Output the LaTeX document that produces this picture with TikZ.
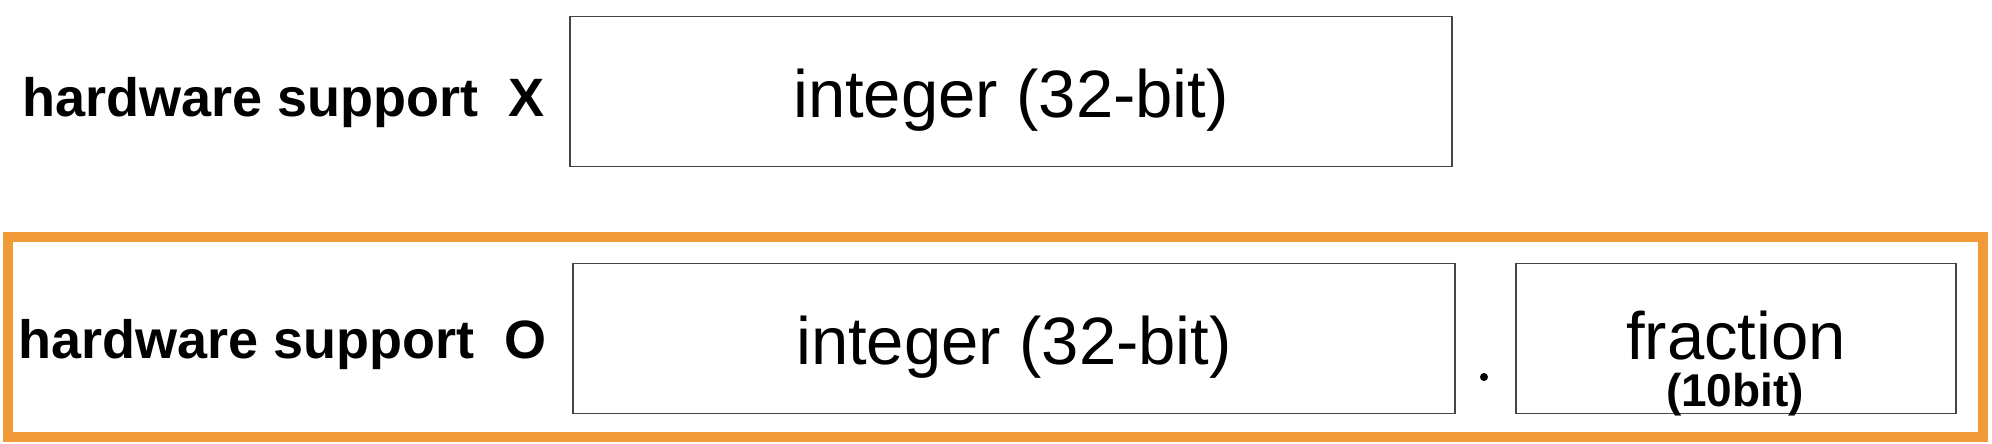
\documentclass[tikz,border=0pt]{standalone}
\usepackage{fontspec}
\setmainfont{Liberation Sans}
\usepackage{tikz}
\usetikzlibrary{
    positioning,
    calc
}
\tikzset{
  block/.style   = {draw=boGray, line width=0.75pt, minimum width=441pt,
                    minimum height=75pt, inner sep=0pt,
                    font=\fontsize{33.5}{40}\selectfont,
                    text height=26pt, text depth=0pt},
  fblock/.style  = {block, minimum width=220pt, text height=21pt},
  hwlbl/.style   = {anchor=base west, inner sep=0pt,
                    font=\fontsize{27}{32}\selectfont\bfseries},
  sublbl/.style  = {anchor=base, inner sep=0pt,
                    font=\fontsize{23}{28}\selectfont\bfseries},
  frame/.style   = {draw=boOrange, line width=5pt}
}
\definecolor{boOrange}{RGB}{240,154,56}
\definecolor{boGray}{RGB}{70,70,70}

\begin{document}
\begin{tikzpicture}[x=0.5pt,y=-0.5pt]
\useasboundingbox (0,0) rectangle (1992,444);
% no hardware support
\node[hwlbl] (hwx) at (22,117) {hardware support\ \ X};
\node[block] (int1) at (1011,91.5) {integer (32-bit)};
% hardware support
\draw[frame] (7.5,237) rectangle (1983,437);
\node[hwlbl] (hwo) at (18,358) {hardware support\ \ O};
\node[block] (int2) at (1014,338.5) {integer (32-bit)};
\node[fblock] (frac) at (1736,338.5) {fraction};
\node[sublbl] (fbits) at (1735,406) {(10bit)};
\fill (1484,377) circle (2pt);
\end{tikzpicture}
\end{document}
